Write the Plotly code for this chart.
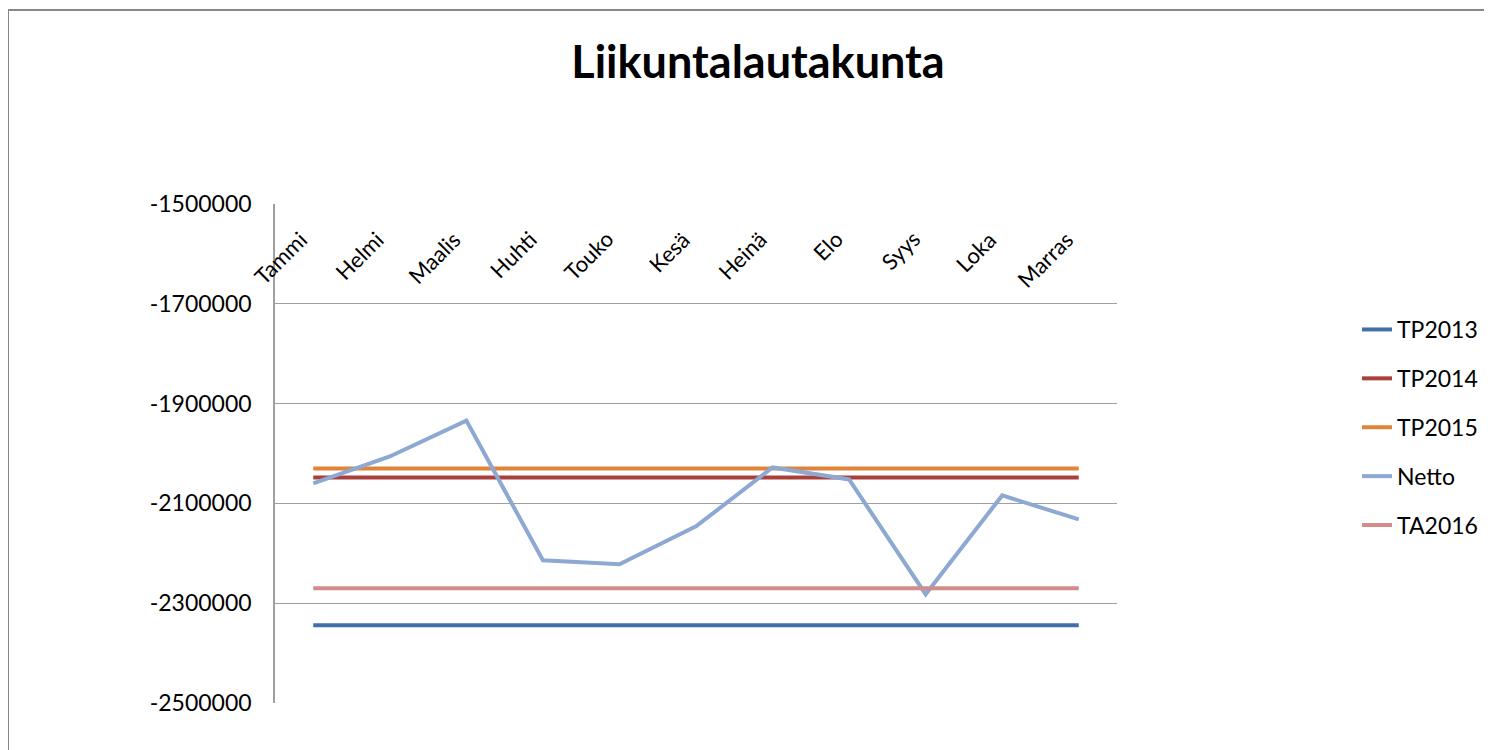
import plotly.graph_objects as go

months = ["Tammi", "Helmi", "Maalis", "Huhti", "Touko", "Kesä", "Heinä", "Elo", "Syys", "Loka", "Marras"]
tp2013 = [-2344000] * 11
tp2014 = [-2048000] * 11
tp2015 = [-2030000] * 11
netto = [-2060000, -2006000, -1934000, -2214000, -2222000, -2146000, -2028000, -2052000, -2282000, -2084000, -2132000]
ta2016 = [-2270000] * 11
y_ticks = [-2500000, -2300000, -2100000, -1900000, -1700000, -1500000]
y_tick_text = ["-2500000", "-2300000", "-2100000", "-1900000", "-1700000", "-1500000"]

series = [
    ("TP2013", tp2013, "#4170A8"),
    ("TP2014", tp2014, "#A9403C"),
    ("TP2015", tp2015, "#E0843A"),
    ("Netto", netto, "#8DA8D2"),
    ("TA2016", ta2016, "#D28C8A"),
]

FONT = "Lato, Open Sans, sans-serif"
W, H = 1492, 750
OFF = 8  # page body offset
L, R, T, B = 275, 1117, 204, 703
ml, mr, mt, mb = L - OFF, W + OFF - R, T - OFF, H + OFF - B

def px(x):
    return (x - L) / (R - L)

def py(y):
    return (B - y) / (B - T)

fig = go.Figure()
for name, vals, col in series:
    fig.add_trace(go.Scatter(
        x=months, y=vals, name=name, mode="lines",
        line=dict(color=col, width=4),
        legendgroup=name,
    ))

annotations = []
for m in months:
    annotations.append(dict(
        x=m, y=1, xref="x", yref="paper", text=m, showarrow=False,
        textangle=-45, xanchor="right", yanchor="top", xshift=2, yshift=-19,
        font=dict(family=FONT, size=22, color="#000000"),
    ))

def path(points):
    return "M " + " L ".join(f"{px(x)},{py(y)}" for x, y in points) + " Z"

shapes = [
    dict(type="path", xref="paper", yref="paper",
         path=path([(-2, 648), (7, 662), (7, 700), (-2, 690)]),
         fillcolor="#8EA8C8", line=dict(width=0), layer="below"),
    dict(type="path", xref="paper", yref="paper",
         path=path([(-2, 690), (7, 700), (7, 760), (-2, 760)]),
         fillcolor="#7FB8DC", line=dict(width=0), layer="below"),
    dict(type="path", xref="paper", yref="paper",
         path=path([(-2, 715), (7, 725), (7, 760), (-2, 760)]),
         fillcolor="#5AAAD6", line=dict(width=0), layer="below"),
    dict(type="line", xref="paper", yref="paper", x0=px(8), x1=px(W + 20), y0=py(10), y1=py(10),
         line=dict(color="#888888", width=2)),
    dict(type="line", xref="paper", yref="paper", x0=px(8), x1=px(8), y0=py(10), y1=py(H + 20),
         line=dict(color="#888888", width=2)),
]

fig.update_layout(
    width=W, height=H,
    margin=dict(l=ml, r=mr, t=mt, b=mb, autoexpand=False),
    paper_bgcolor="white", plot_bgcolor="white",
    font=dict(family=FONT, size=22, color="#000000"),
    title=dict(text="<b>Liikuntalautakunta</b>", x=(758 - OFF) / W, xref="container", xanchor="center",
               y=1 - (62 - OFF) / H, yref="container", yanchor="middle",
               font=dict(family=FONT, size=45, color="#000000")),
    xaxis=dict(type="category", showticklabels=False, showgrid=False, zeroline=False,
               showline=False, ticks="", range=[-0.5, 10.5]),
    yaxis=dict(range=[-2500000, -1500000], tickmode="array", tickvals=y_ticks, ticktext=y_tick_text,
               showgrid=True, gridcolor="#A0A0A0", gridwidth=1.3,
               showline=True, linecolor="#A0A0A0", linewidth=1.5,
               zeroline=False, ticks="", ticklabelstandoff=17,
               tickfont=dict(family=FONT, size=23, color="#000000")),
    legend=dict(x=px(1357), y=py(308), xanchor="left", yanchor="top",
                font=dict(family=FONT, size=23, color="#000000"),
                tracegroupgap=16, bgcolor="rgba(0,0,0,0)"),
    annotations=annotations,
    shapes=shapes,
    showlegend=True,
)

fig.write_html("out.html")
